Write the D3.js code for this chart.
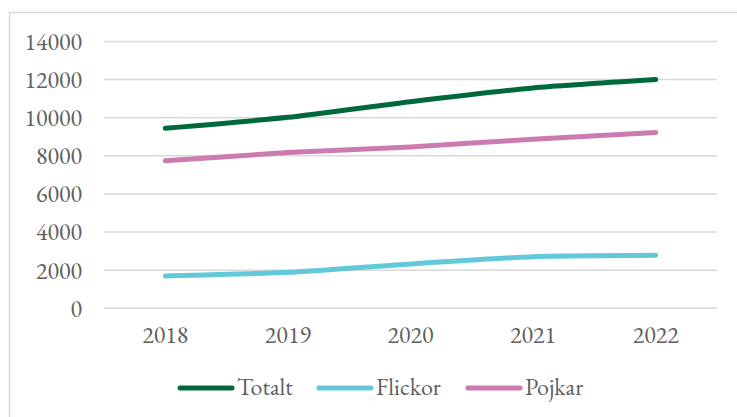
<!DOCTYPE html>
<html><head><meta charset="utf-8">
<script src="https://cdn.jsdelivr.net/npm/d3@7"></script>
<style>
html,body{margin:0;padding:0;background:#fff;}
svg{display:block;}
</style></head>
<body>
<svg id="chart" width="737" height="417"></svg>
<script>
const years = ["2018","2019","2020","2021","2022"];
const totalt = [9450, 10020, 10840, 11560, 12000];
const flickor = [1700, 1890, 2330, 2710, 2780];
const pojkar = [7740, 8170, 8470, 8870, 9220];
const yTicks = [0,2000,4000,6000,8000,10000,12000,14000];
const seriesNames = ["Totalt","Flickor","Pojkar"];
const seriesColors = ["#00693C","#62C9DA","#CB7BAF"];

(function(){
const FONT = '"EB Garamond", "Liberation Serif", serif';
const FS = "24px";
const TXT = "#606060";
const series = [totalt, flickor, pojkar].map((v,i)=>({name:seriesNames[i], color:seriesColors[i], values:v}));

const svg = d3.select("#chart");
svg.append("rect").attr("x",9.5).attr("y",12.5).attr("width",760).attr("height",430)
  .attr("fill","none").attr("stroke","#d9d9d9").attr("stroke-width",1.5);

const pLeft=104, pRight=717, pTop=41.5, pBottom=308.3;
const x = d3.scaleBand().domain(years).range([pLeft,pRight]);
const y = d3.scaleLinear().domain([0,14000]).range([pBottom,pTop]);

svg.append("g").selectAll("line").data(yTicks).join("line")
  .attr("x1",pLeft).attr("x2",pRight).attr("y1",d=>y(d)).attr("y2",d=>y(d))
  .attr("stroke","#d9d9d9").attr("stroke-width",1.5);

const yAxis = d3.axisLeft(y).tickValues(yTicks).tickSize(0).tickPadding(0).tickFormat(d3.format("d"));
const gy = svg.append("g").attr("transform",`translate(82,0)`).call(yAxis);
gy.select(".domain").remove();
gy.selectAll("text").style("font-family",FONT).style("font-size",FS).attr("fill",TXT).attr("dy","0.33em");

const xAxis = d3.axisBottom(x).tickSize(0).tickPadding(0);
const gx = svg.append("g").attr("transform",`translate(0,343)`).call(xAxis);
gx.select(".domain").remove();
gx.selectAll("text").style("font-family",FONT).style("font-size",FS).attr("fill",TXT).attr("dy","0");

const line = d3.line().x((d,i)=>x(years[i])+x.bandwidth()/2).y(d=>y(d)).curve(d3.curveCardinal.tension(0.4));
svg.append("g").selectAll("path").data(series).join("path")
  .attr("d",d=>line(d.values)).attr("fill","none").attr("stroke",d=>d.color)
  .attr("stroke-width",5).attr("stroke-linecap","round").attr("stroke-linejoin","round");

const legendItems = [
  {lx:180, tx:237},
  {lx:319, tx:376},
  {lx:468, tx:525}
];
const lg = svg.append("g");
series.forEach((s,i)=>{
  const it = legendItems[i];
  lg.append("line").attr("x1",it.lx).attr("x2",it.lx+52).attr("y1",388).attr("y2",388)
    .attr("stroke",s.color).attr("stroke-width",5).attr("stroke-linecap","round");
  lg.append("text").attr("x",it.tx).attr("y",395).style("font-family",FONT).style("font-size",FS)
    .attr("fill",TXT).text(s.name);
});
})();
</script>
</body></html>
